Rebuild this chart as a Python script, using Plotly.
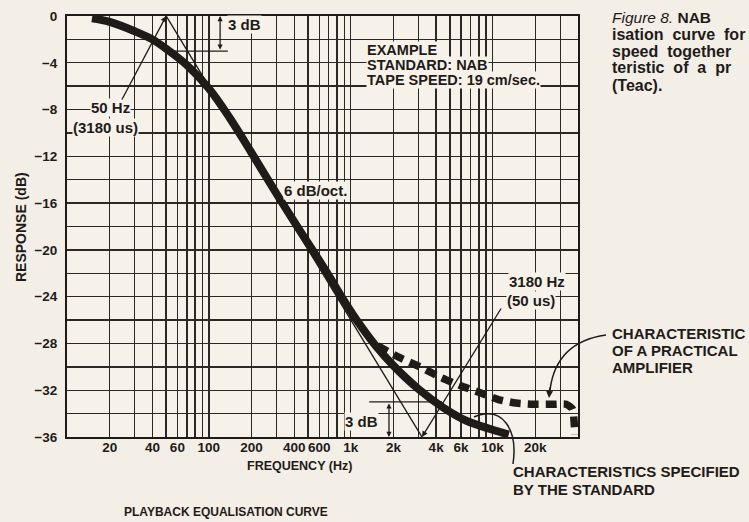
import math
import plotly.graph_objects as go

# ---------------- data ----------------
# NAB standard playback curve (thick solid line)
std_freq = [15, 20, 30, 40, 50, 70, 100, 140, 200, 300, 400, 550, 700, 850,
            1100, 1500, 2000, 3000, 4500, 6500, 9500, 13000]
std_db = [-0.2, -0.5, -1.3, -2.0, -2.8, -4.2, -6.2, -8.7, -11.7, -15.2, -17.6,
          -20.2, -22.2, -23.9, -26.0, -28.2, -29.9, -31.9, -33.5, -34.6, -35.3, -35.8]

# characteristic of a practical amplifier (thick dashed line)
prac_freq = [1550, 2200, 3200, 4300, 5900, 8100, 11000, 14600, 19400, 27000,
             33000, 36500, 37500, 38000]
prac_db = [-28.2, -29.2, -30.1, -30.9, -31.6, -32.2, -32.8, -33.1, -33.2, -33.2,
           -33.2, -33.6, -34.6, -35.8]

# straight-line asymptote through the two corner frequencies
corner_freq = [50, 3180]
asym_db = [0, -36]

# 3 dB reference lines
ref_top_freq = [50, 136]
ref_top_db = [-3, -3]
ref_bot_freq = [1350, 4400]
ref_bot_db = [-33, -33]

# axes
grid_freq = [20, 30, 40, 50, 60, 70, 80, 90, 100, 200, 300, 400, 500, 600, 700,
             800, 900, 1000, 2000, 3000, 4000, 5000, 6000, 7000, 8000, 9000,
             10000, 20000, 30000]
x_label_vals = [20, 40, 60, 100, 200, 400, 600, 1000, 2000, 4000, 6000, 10000, 20000]
x_label_text = ['20', '40', '60', '100', '200', '400', '600', '1k', '2k', '4k', '6k', '10k', '20k']
grid_db = list(range(0, -37, -2))
y_label_vals = [0, -4, -8, -12, -16, -20, -24, -28, -32, -36]
y_label_text = ['0', '\u22124', '\u22128', '\u221212', '\u221216', '\u221220',
                '\u221224', '\u221228', '\u221232', '\u221236']

# ---------------- styling ----------------
W, H = 749, 522
L, R, T, B = 67, 578, 16, 437
PAPER = '#f3eee6'
PLOTBG = '#f6f2ea'
INK = '#1f1b19'
GRID = '#2c2826'
FONT = 'Liberation Sans'


def px(x):
    return (x - L) / (R - L)


def py(y):
    return (B - y) / (B - T)


lbl = dict(zip(x_label_vals, x_label_text))
x_ticktext = [lbl.get(v, '') for v in grid_freq]
ylbl = dict(zip(y_label_vals, y_label_text))
y_ticktext = [ylbl.get(v, '') for v in grid_db]

fig = go.Figure()

thin = dict(color=INK, width=1.4)
# thin asymptote
fig.add_trace(go.Scatter(x=corner_freq, y=asym_db, mode='lines', line=thin, hoverinfo='skip'))
# 3 dB reference lines
fig.add_trace(go.Scatter(x=ref_top_freq, y=ref_top_db, mode='lines', line=thin, hoverinfo='skip'))
fig.add_trace(go.Scatter(x=ref_bot_freq, y=ref_bot_db, mode='lines', line=thin, hoverinfo='skip'))

# practical amplifier (dashed)
fig.add_trace(go.Scatter(x=prac_freq, y=prac_db, mode='lines',
                         line=dict(color=INK, width=7.5, dash='11px,7px', shape='spline',
                                   smoothing=0.6),
                         hoverinfo='skip'))
# standard curve
fig.add_trace(go.Scatter(x=std_freq, y=std_db, mode='lines',
                         line=dict(color=INK, width=8, shape='spline', smoothing=1.0),
                         hoverinfo='skip'))

tickfont = dict(family=FONT, size=13.5, color=INK, weight='bold')
annotations = []


def text(x, y, s, size=15, xanchor='center', bg=None, angle=0, weight='bold'):
    a = dict(x=px(x), y=py(y), xref='paper', yref='paper', text=s, showarrow=False,
             xanchor=xanchor, yanchor='middle', textangle=angle,
             font=dict(family=FONT, size=size, color=INK, weight=weight))
    if bg:
        a['bgcolor'] = bg
        a['borderpad'] = 0
    annotations.append(a)


# labels on the chart
text(227, 25, '3 dB', xanchor='left', bg=PLOTBG)
text(361, 421, '3 dB', bg=PLOTBG)
text(110, 108, '50 Hz', bg=PLOTBG)
text(105, 127, '(3180 us)', bg=PLOTBG)
text(366, 50, 'EXAMPLE', size=14.5, xanchor='left', bg=PLOTBG)
text(366, 65, 'STANDARD: NAB', size=14.5, xanchor='left', bg=PLOTBG)
text(366, 80, 'TAPE SPEED: 19 cm/sec.', size=14.5, xanchor='left', bg=PLOTBG)
text(283, 190, '6 dB/oct.', xanchor='left', bg=PLOTBG)
text(537, 281, '3180 Hz', bg=PLOTBG)
text(531, 300, '(50 us)', bg=PLOTBG)

# caption (clipped at right edge like the reference)
text(610, 17, '<i>Figure 8.</i> <b>NAB</b>', size=15.5, xanchor='left', weight='normal')
text(610, 34, 'isation  curve  for', size=16, xanchor='left')
text(610, 51, 'speed  together', size=16, xanchor='left')
text(610, 68, 'teristic  of  a  pr', size=16, xanchor='left')
text(610, 85, '(Teac).', size=16, xanchor='left')

text(610, 333, 'CHARACTERISTIC', xanchor='left')
text(610, 350, 'OF A PRACTICAL', xanchor='left')
text(610, 367, 'AMPLIFIER', xanchor='left')
text(511, 471, 'CHARACTERISTICS SPECIFIED', xanchor='left')
text(511, 489, 'BY THE STANDARD', xanchor='left')

# axis titles
text(21, 227, 'RESPONSE (dB)', size=14, angle=-90)
text(299, 466, 'FREQUENCY (Hz)', size=12.5)
text(226, 512, 'PLAYBACK EQUALISATION CURVE', size=12)

# leader arrows (data refs, log x)
annotations.append(dict(x=math.log10(corner_freq[0]), y=asym_db[0], xref='x', yref='y',
                        ax=-45, ay=85, text='', showarrow=True, arrowhead=2,
                        arrowsize=0.9, arrowwidth=1.3, arrowcolor=INK))
annotations.append(dict(x=math.log10(corner_freq[1]), y=asym_db[1], xref='x', yref='y',
                        ax=80, ay=-130, text='', showarrow=True, arrowhead=2,
                        arrowsize=0.9, arrowwidth=1.3, arrowcolor=INK))
# 3 dB double arrows
annotations.append(dict(x=math.log10(120), y=0, xref='x', yref='y',
                        ax=math.log10(120), ay=-3, axref='x', ayref='y', text='',
                        showarrow=True, arrowhead=2, startarrowhead=2, arrowside='end+start',
                        arrowsize=0.8, arrowwidth=1.3, arrowcolor=INK))
annotations.append(dict(x=math.log10(1860), y=-36, xref='x', yref='y',
                        ax=math.log10(1860), ay=-33, axref='x', ayref='y', text='',
                        showarrow=True, arrowhead=2, startarrowhead=2, arrowside='end+start',
                        arrowsize=0.8, arrowwidth=1.3, arrowcolor=INK))
# arrow tip of the curved leader to the practical curve
annotations.append(dict(x=px(549), y=py(398), xref='paper', yref='paper',
                        ax=1, ay=-12, text='', showarrow=True, arrowhead=2,
                        arrowsize=1.0, arrowwidth=1.4, arrowcolor=INK))

shapes = [
    dict(type='path', xref='paper', yref='paper',
         path=f'M {px(606)},{py(335)} Q {px(556)},{py(342)} {px(550)},{py(390)}',
         line=dict(color=INK, width=1.5)),
    dict(type='path', xref='paper', yref='paper',
         path=f'M {px(513)},{py(464)} C {px(518)},{py(430)} {px(503)},{py(405)} {px(474)},{py(417)}',
         line=dict(color=INK, width=1.5)),
]

fig.update_layout(
    width=W, height=H,
    margin=dict(l=L, r=W - R, t=T, b=H - B, pad=0, autoexpand=False),
    paper_bgcolor=PAPER, plot_bgcolor=PLOTBG,
    showlegend=False,
    annotations=annotations,
    shapes=shapes,
    xaxis=dict(type='log', range=[1, math.log10(40000)], tickvals=grid_freq,
               ticktext=x_ticktext, showgrid=True, gridcolor=GRID, gridwidth=1.4,
               zeroline=False, showline=True, mirror=True, linecolor=INK, linewidth=2,
               ticks='', ticklabelstandoff=-3, tickangle=0, tickfont=tickfont,
               fixedrange=True, automargin=False),
    yaxis=dict(range=[-36, 0], tickvals=grid_db, ticktext=y_ticktext, showgrid=True,
               gridcolor=GRID, gridwidth=1.4, zeroline=False, showline=True, mirror=True,
               linecolor=INK, linewidth=2, ticks='', ticklabelstandoff=5,
               tickfont=tickfont, fixedrange=True, automargin=False),
)

fig.write_html('out.html', config={'displayModeBar': False, 'staticPlot': True},
               post_script="document.body.style.margin='0px';"
               "document.body.style.overflow='hidden';")
